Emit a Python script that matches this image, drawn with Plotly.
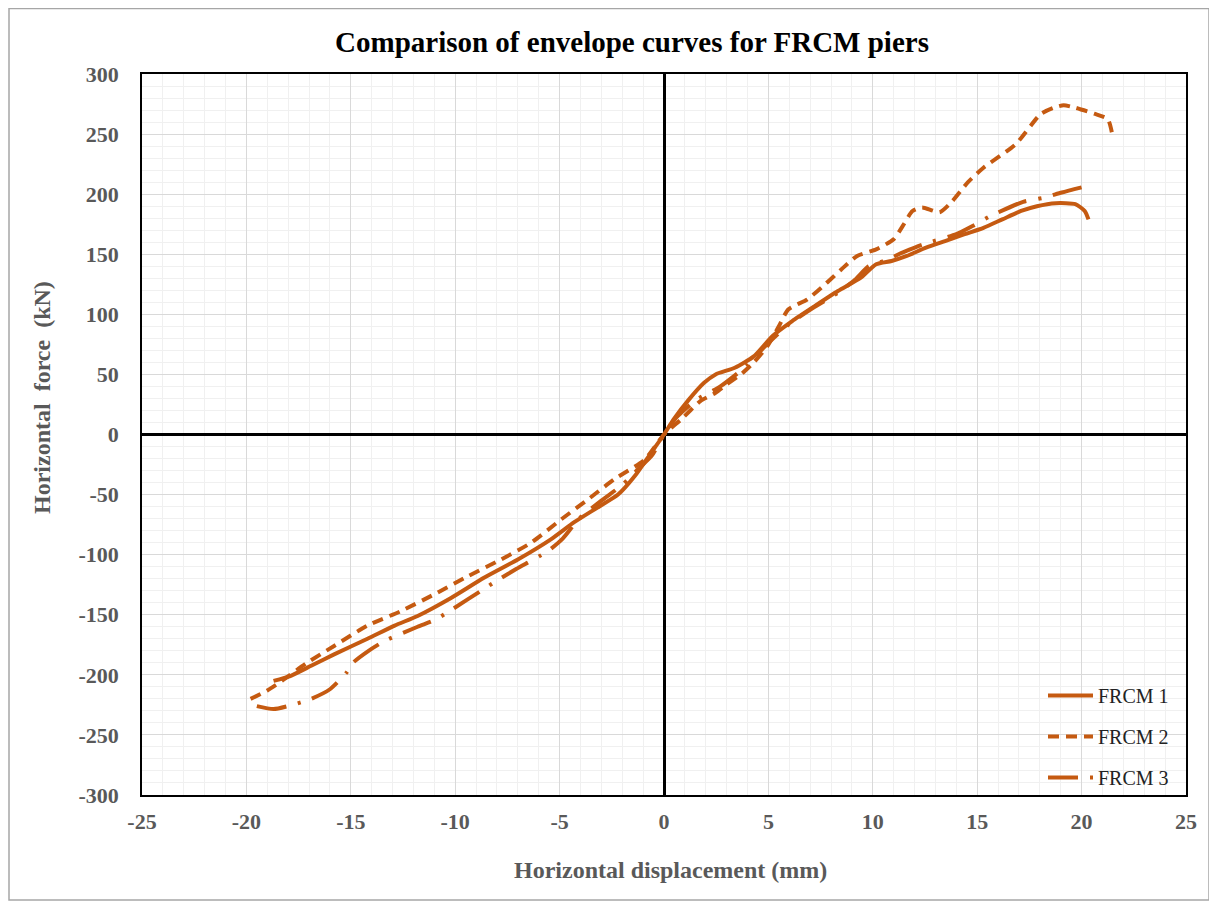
import plotly.graph_objects as go

# ---- data ----
x1 = [-18.7, -17.9, -16.9, -15.8, -14.2, -12.9, -11.8, -10.2, -8.6, -7.0, -5.4, -4.3, -3.3, -2.2, -1.4, -0.61, 0,
      0.46, 1.19, 1.92, 2.47, 3.39, 4.3, 5.2, 6.14, 7.23, 8.33, 9.43, 10.16, 10.9, 11.63, 12.55, 13.46, 14.4,
      15.3, 16.2, 17.1, 17.86, 18.77, 19.7, 20.15, 20.33]
y1 = [-205, -201, -192.5, -183, -170, -159, -151, -136, -119, -104, -87, -73, -62, -50, -34.6, -15, 0,
      12.5, 29, 43, 50, 55.5, 65, 82, 94.4, 107, 119.4, 130.5, 141.7, 144.4, 148.6, 155.5, 161, 166.7,
      172, 179, 186, 190, 192.5, 191.7, 186, 179]

x2 = [-19.8, -19.0, -18.3, -17.1, -15.8, -14.2, -12.6, -11.0, -9.4, -7.8, -6.36, -4.92, -3.64, -2.36, -0.93, 0,
      0.82, 1.74, 2.47, 3.0, 3.75, 4.3, 4.95, 5.5, 5.95, 6.87, 7.78, 8.5, 9.25, 10.16, 11.0, 11.45, 11.9, 12.36,
      13.2, 13.8, 14.56, 15.3, 16.85, 18.04, 18.68, 19.14, 19.69, 20.6, 21.25, 21.5]
y2 = [-220, -213, -205, -190, -176, -159, -147, -133, -118, -104, -90, -70.6, -54, -37, -21, 0,
      12.5, 27.8, 34.7, 41.7, 51, 60, 73.6, 90, 104, 112.5, 126, 137.5, 148.6, 154, 162.5, 174, 186, 189,
      185, 194, 210, 222, 241.7, 266.7, 272, 274, 272, 267, 262.5, 247]

x3 = [-19.5, -18.7, -17.8, -16.9, -16.0, -15.2, -14.9, -14.2, -13.4, -11.8, -10.94, -10.1, -8.67, -7.9, -7.08,
      -5.56, -4.84, -4.1, -3.0, -2.0, -1.2, -0.6, 0, 0.64, 1.56, 2.7, 3.94, 4.85, 6.0, 7.2, 8.33, 9.16, 9.8,
      10.53, 11.5, 12.36, 14.0, 14.83, 15.66, 17.2, 18.17, 19.05, 20.4]
y3 = [-226, -228.5, -225, -220, -212, -198, -190, -180.6, -172, -160, -154, -145, -129, -120.5, -112,
      -97, -86.4, -70.6, -55, -42, -28, -18, 0, 15, 29, 40, 57, 73.6, 92, 106, 118, 129, 140,
      144.4, 152, 158, 166.7, 174, 182, 193.6, 197, 201.4, 207.5]

names = ["FRCM 1", "FRCM 2", "FRCM 3"]
x_ticks = [-25, -20, -15, -10, -5, 0, 5, 10, 15, 20, 25]
y_ticks = [-300, -250, -200, -150, -100, -50, 0, 50, 100, 150, 200, 250, 300]

COLOR = "#C55A11"
SERIF = "Liberation Serif, Times New Roman, serif"
GREY = "#595959"

# page body has an 8px margin: figure is laid out in its own coordinates
W, H = 1203, 893
L, T, PW, PH = 134, 66, 1044, 721
OFF = 8


def px_x(sx):
    """screen x pixel -> paper x"""
    return (sx - OFF - L) / PW


def px_y(sy):
    """screen y pixel -> paper y"""
    return (T + PH - (sy - OFF)) / PH


fig = go.Figure()
styles = ["solid", "11px,7px", "30px,12px,3px,12px"]
for xs, ys, nm, ds in zip([x1, x2, x3], [y1, y2, y3], names, styles):
    fig.add_trace(go.Scatter(
        x=xs, y=ys, name=nm, mode="lines", legendgroup=nm,
        line=dict(color=COLOR, width=4, dash=ds, shape="spline", smoothing=0.6),
    ))

fig.update_layout(
    width=W, height=H,
    paper_bgcolor="white", plot_bgcolor="white",
    margin=dict(l=L, r=W - L - PW, t=T, b=H - T - PH, autoexpand=False),
    title=dict(text="<b>Comparison of envelope curves for FRCM piers</b>",
               x=(632 - OFF) / W, xanchor="center", y=1 - (42 - OFF) / H, yanchor="middle",
               font=dict(family=SERIF, size=29, color="black")),
    font=dict(family=SERIF),
    legend=dict(x=px_x(1043), y=px_y(676), xanchor="left", yanchor="top",
                bgcolor="rgba(0,0,0,0)", tracegroupgap=12, itemwidth=45,
                font=dict(family=SERIF, size=20, color="#222222")),
    shapes=[dict(type="rect", xref="paper", yref="paper", x0=-133 / PW, x1=1 + 23 / PW,
                 y0=-105 / PH, y1=1 + 65.5 / PH, line=dict(color="#A6A6A6", width=1.5),
                 fillcolor="rgba(0,0,0,0)", layer="below")],
    annotations=[
        dict(text="<b>Horizontal displacement (mm)</b>", xref="paper", yref="paper",
             x=px_x(670), y=px_y(870), xanchor="center", yanchor="middle", showarrow=False,
             font=dict(family=SERIF, size=24, color=GREY)),
        dict(text="<b>Horizontal&nbsp; force&nbsp; (kN)</b>", xref="paper", yref="paper",
             x=px_x(42), y=px_y(398), xanchor="center", yanchor="middle", showarrow=False,
             textangle=-90, font=dict(family=SERIF, size=24, color=GREY)),
    ],
)

fig.update_xaxes(
    range=[-25, 25], tickvals=x_ticks, ticktext=[f"<b>{v}</b>" for v in x_ticks],
    showgrid=True, gridcolor="#D9D9D9", gridwidth=1.2,
    minor=dict(dtick=1, showgrid=True, gridcolor="#F0F0F0", gridwidth=1),
    zeroline=True, zerolinecolor="black", zerolinewidth=2.5,
    showline=True, linecolor="black", linewidth=1.5, mirror=True,
    ticks="", ticklabelstandoff=6,
    tickfont=dict(family=SERIF, size=22, color=GREY),
)
fig.update_yaxes(
    range=[-300, 300], tickvals=y_ticks, ticktext=[f"<b>{v}</b>" for v in y_ticks],
    showgrid=True, gridcolor="#D9D9D9", gridwidth=1.2,
    minor=dict(dtick=10, showgrid=True, gridcolor="#F0F0F0", gridwidth=1),
    zeroline=True, zerolinecolor="black", zerolinewidth=2.5,
    showline=True, linecolor="black", linewidth=1.5, mirror=True,
    ticks="", ticklabelstandoff=17,
    tickfont=dict(family=SERIF, size=22, color=GREY),
)

fig.write_html("out.html")
